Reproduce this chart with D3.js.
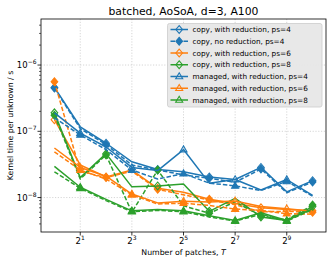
<!DOCTYPE html>
<html><head><meta charset="utf-8">
<script src="https://cdn.jsdelivr.net/npm/d3@7"></script>
<style>body{margin:0;background:#fff}svg{display:block}</style>
</head><body><svg id="c" width="332" height="263"></svg>
<script>
// ---- data ----
const patches = [1, 2, 4, 8, 16, 32, 64, 128, 256, 512, 1024];
const xTickExps = [1, 3, 5, 7, 9];
const yTickExps = [-8, -7, -6];

const copyRed4    = [4.6e-7, 1.17e-7, 6.6e-8, 3.46e-8, 2.65e-8, 2.45e-8, 2.05e-8, 1.87e-8, 2.85e-8, 1.22e-8, 1.8e-8];
const copyNoRed4  = [4.5e-7, 1.1e-7, 6.3e-8, 3.1e-8, 2.6e-8, 2.2e-8, 1.95e-8, 1.7e-8, 2.7e-8, 1.18e-8, 1.72e-8];
const copyRed6    = [1.5e-7, 3.1e-8, 2.05e-8, 2.6e-8, 1.38e-8, 1.2e-8, 9.4e-9, 8.1e-9, 7.0e-9, 6.6e-9, 6.3e-9];
const copyNoRed6  = [5.6e-7, 2.5e-8, 2.0e-8, 2.5e-8, 1.33e-8, 1.1e-8, 9.2e-9, 7.8e-9, 6.1e-9, 6.2e-9, 6.0e-9];
const copyRed8    = [1.9e-7, 2.0e-8, 4.6e-8, 1.45e-8, 1.5e-8, 1.6e-8, 6.2e-9, 9.7e-9, 5.1e-9, 4.5e-9, 7.3e-9];
const copyNoRed8  = [1.75e-7, 1.9e-8, 4.4e-8, 6.0e-9, 2.6e-8, 7.5e-9, 5.8e-9, 8.6e-9, 5.3e-9, 4.6e-9, 7.7e-9];
const managed4    = [1.9e-7, 9.4e-8, 5.8e-8, 2.85e-8, 2.55e-8, 5.3e-8, 1.65e-8, 1.87e-8, 1.3e-8, 1.87e-8, 1.08e-8];
const managedNR4  = [1.6e-7, 8.8e-8, 5.3e-8, 2.6e-8, 1.9e-8, 2.3e-8, 1.65e-8, 1.5e-8, 1.28e-8, 1.75e-8, 1.05e-8];
const managed6    = [5.6e-8, 2.85e-8, 2.1e-8, 1.13e-8, 8.3e-9, 8.8e-9, 8.6e-9, 8.9e-9, 7.3e-9, 6.8e-9, 6.2e-9];
const managedNR6  = [4.9e-8, 2.6e-8, 1.9e-8, 1.1e-8, 8.0e-9, 8.2e-9, 7.6e-9, 6.7e-9, 6.4e-9, 5.7e-9, 5.6e-9];
const managed8    = [2.95e-8, 1.43e-8, 9.4e-9, 6.3e-9, 6.6e-9, 6.3e-9, 5.3e-9, 4.5e-9, 5.9e-9, 4.5e-9, 6.8e-9];
const managedNR8  = [2.45e-8, 1.38e-8, 9.0e-9, 6.1e-9, 6.4e-9, 6.1e-9, 5.1e-9, 4.4e-9, 5.6e-9, 4.4e-9, 6.6e-9];

const C = {b: "#1f77b4", o: "#ff7f0e", g: "#2ca02c"};
const series = [
  {label: "copy, with reduction, ps=4", color: C.b, vals: copyRed4, mk: "D", filled: false, dash: false, start: 0, legend: true},
  {label: "copy, no reduction, ps=4", color: C.b, vals: copyNoRed4, mk: "D", filled: true, dash: true, start: 0, legend: true},
  {label: "copy, with reduction, ps=6", color: C.o, vals: copyRed6, mk: "D", filled: false, dash: false, start: 0, legend: true},
  {label: "", color: C.o, vals: copyNoRed6, mk: "D", filled: true, dash: true, start: 0, legend: false},
  {label: "copy, with reduction, ps=8", color: C.g, vals: copyRed8, mk: "D", filled: false, dash: false, start: 0, legend: true},
  {label: "", color: C.g, vals: copyNoRed8, mk: "D", filled: true, dash: true, start: 0, legend: false},
  {label: "managed, with reduction, ps=4", color: C.b, vals: managed4, mk: "^", filled: false, dash: false, start: 1, legend: true},
  {label: "", color: C.b, vals: managedNR4, mk: "^", filled: true, dash: true, start: 1, legend: false},
  {label: "managed, with reduction, ps=6", color: C.o, vals: managed6, mk: "^", filled: false, dash: false, start: 1, legend: true},
  {label: "", color: C.o, vals: managedNR6, mk: "^", filled: true, dash: true, start: 1, legend: false},
  {label: "managed, with reduction, ps=8", color: C.g, vals: managed8, mk: "^", filled: false, dash: false, start: 1, legend: true},
  {label: "", color: C.g, vals: managedNR8, mk: "^", filled: true, dash: true, start: 1, legend: false}
];

// ---- layout ----
const L = 41, R = 326, TOP = 19, B = 232;
const svg = d3.select("#c");
const font = "DejaVu Sans, sans-serif";

const x = d3.scaleLog().base(2).domain([Math.pow(2, -0.52), Math.pow(2, 10.52)]).range([L, R]);
const y = d3.scaleLog().domain([Math.pow(10, -8.52), Math.pow(10, -5.305)]).range([B, TOP]);

// grid
const grid = svg.append("g").attr("stroke", "#cccccc").attr("stroke-width", 0.8).attr("stroke-dasharray", "1.2,1.6");
xTickExps.forEach(e => grid.append("line").attr("x1", x(2 ** e)).attr("x2", x(2 ** e)).attr("y1", TOP).attr("y2", B));
yTickExps.forEach(e => grid.append("line").attr("y1", y(10 ** e)).attr("y2", y(10 ** e)).attr("x1", L).attr("x2", R));

// lines and markers
svg.append("clipPath").attr("id", "pc").append("rect").attr("x", L).attr("y", TOP).attr("width", R - L).attr("height", B - TOP);
const plot = svg.append("g").attr("clip-path", "url(#pc)");
const line = d3.line().x(d => x(d[0])).y(d => y(d[1]));

function markerPath(mk, cx, cy) {
  if (mk === "D") { const r = 3.9; return `M${cx},${cy - r}L${cx + r * 0.85},${cy}L${cx},${cy + r}L${cx - r * 0.85},${cy}Z`; }
  const r = 3.7; return `M${cx},${cy - r}L${cx + r * 0.95},${cy + r * 0.62}L${cx - r * 0.95},${cy + r * 0.62}Z`;
}

series.forEach(s => {
  const pts = patches.map((p, i) => [p, s.vals[i]]);
  plot.append("path").attr("d", line(pts)).attr("fill", "none").attr("stroke", s.color)
    .attr("stroke-width", 1.5).attr("stroke-dasharray", s.dash ? "4.5,2" : null).attr("stroke-linejoin", "round");
  pts.forEach((d, i) => {
    if ((i - s.start) % 2 !== 0 || i < s.start) return;
    plot.append("path").attr("d", markerPath(s.mk, x(d[0]), y(d[1])))
      .attr("fill", s.filled ? s.color : "none").attr("stroke", s.color).attr("stroke-width", 1.1);
  });
});

// frame
svg.append("rect").attr("x", L).attr("y", TOP).attr("width", R - L).attr("height", B - TOP)
  .attr("fill", "none").attr("stroke", "#000").attr("stroke-width", 0.8);

// x axis ticks
const ax = svg.append("g");
xTickExps.forEach(e => {
  const px = x(2 ** e);
  ax.append("line").attr("x1", px).attr("x2", px).attr("y1", B).attr("y2", B + 3.5).attr("stroke", "#000").attr("stroke-width", 0.8);
  const t = ax.append("text").attr("x", px).attr("y", 244).attr("text-anchor", "middle")
    .attr("font-family", font).attr("font-size", 8.5).attr("fill", "#000");
  t.append("tspan").text("2");
  t.append("tspan").attr("dy", -3.8).attr("font-size", 6).text(String(e));
});

// y axis ticks
const yMin = -8.52, yMax = -5.305;
for (let k = -9; k <= -5; k++) {
  for (let m = 2; m <= 9; m++) {
    const v = m * Math.pow(10, k);
    const lv = Math.log10(v);
    if (lv < yMin || lv > yMax) continue;
    ax.append("line").attr("x1", L).attr("x2", L - 2).attr("y1", y(v)).attr("y2", y(v)).attr("stroke", "#000").attr("stroke-width", 0.6);
  }
}
yTickExps.forEach(e => {
  const py = y(10 ** e);
  ax.append("line").attr("x1", L).attr("x2", L - 3.5).attr("y1", py).attr("y2", py).attr("stroke", "#000").attr("stroke-width", 0.8);
  const t = ax.append("text").attr("x", 36.5).attr("y", py + 3.2).attr("text-anchor", "end")
    .attr("font-family", font).attr("font-size", 8.5).attr("fill", "#000");
  t.append("tspan").text("10");
  t.append("tspan").attr("dy", -4).attr("font-size", 6).text("\u2212" + String(-e));
});

// labels
svg.append("text").attr("x", (L + R) / 2).attr("y", 14.5).attr("text-anchor", "middle")
  .attr("font-family", font).attr("font-size", 10.8).attr("fill", "#000").text("batched, AoSoA, d=3, A100");
const xl = svg.append("text").attr("x", (L + R) / 2).attr("y", 254.5).attr("text-anchor", "middle")
  .attr("font-family", font).attr("font-size", 7.8).attr("fill", "#000");
xl.append("tspan").text("Number of patches, ");
xl.append("tspan").attr("font-style", "italic").text("T");
svg.append("text").attr("transform", `translate(12.5,${(TOP + B) / 2}) rotate(-90)`).attr("text-anchor", "middle")
  .attr("font-family", font).attr("font-size", 7.8).attr("fill", "#000").text("Kernel time per unknown / s");

// legend
const lg = svg.append("g");
lg.append("rect").attr("x", 167.5).attr("y", 23.5).attr("width", 154.5).attr("height", 83.5).attr("rx", 2)
  .attr("fill", "#e6e6e6").attr("fill-opacity", 0.92).attr("stroke", "#cccccc").attr("stroke-width", 0.8);
series.filter(s => s.legend).forEach((s, i) => {
  const cy = 29.5 + i * 11.75;
  lg.append("line").attr("x1", 170.5).attr("x2", 188).attr("y1", cy).attr("y2", cy).attr("stroke", s.color)
    .attr("stroke-width", 1.5).attr("stroke-dasharray", s.dash ? "4.5,2" : null);
  lg.append("path").attr("d", markerPath(s.mk, 179.2, cy)).attr("fill", s.filled ? s.color : "none")
    .attr("stroke", s.color).attr("stroke-width", 1.1);
  lg.append("text").attr("x", 192.5).attr("y", cy + 2.6).attr("font-family", font).attr("font-size", 7.3)
    .attr("fill", "#000").text(s.label);
});
</script></body></html>
